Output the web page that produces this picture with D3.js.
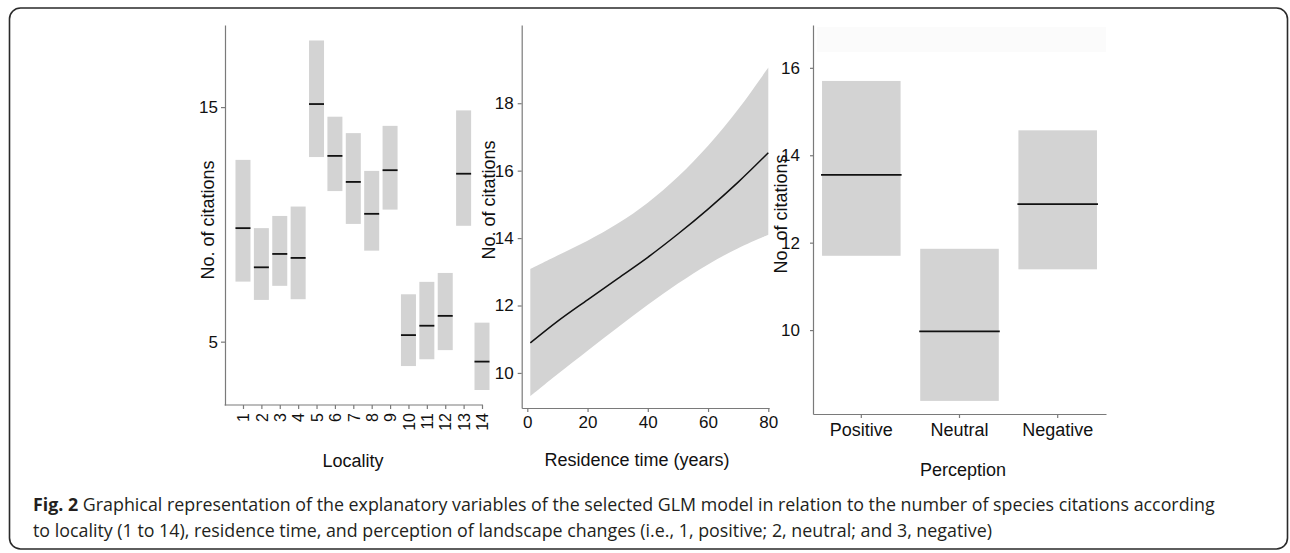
<!DOCTYPE html>
<html>
<head>
<meta charset="utf-8">
<script src="https://cdn.jsdelivr.net/npm/d3@7"></script>
<style>
  html, body { margin: 0; padding: 0; background: #fff; }
  svg { display: block; }
</style>
</head>
<body>
<svg id="chart" width="1290" height="553"></svg>
<script>
// ---------- data ----------
const localities = [1, 2, 3, 4, 5, 6, 7, 8, 9, 10, 11, 12, 13, 14];
const locMean  = [9.84, 8.17, 8.74, 8.57, 15.13, 12.92, 11.81, 10.45, 12.31, 5.28, 5.68, 6.10, 12.16, 4.15];
const locLower = [7.56, 6.78, 7.38, 6.81, 12.87, 11.42, 10.02, 8.88, 10.63, 3.96, 4.25, 4.64, 9.94, 2.94];
const locUpper = [12.75, 9.84, 10.36, 10.76, 17.84, 14.59, 13.89, 12.28, 14.20, 7.02, 7.55, 7.93, 14.86, 5.81];
const locYTicks = [5, 15];

const years     = [1, 10, 20, 30, 40, 50, 60, 70, 80];
const fitMean   = [10.89, 11.53, 12.17, 12.80, 13.43, 14.12, 14.86, 15.66, 16.53];
const fitUpper  = [13.08, 13.48, 13.92, 14.43, 15.05, 15.82, 16.74, 17.82, 19.06];
const fitLower  = [9.31, 9.96, 10.66, 11.35, 12.02, 12.65, 13.22, 13.70, 14.10];
const timeXTicks = [0, 20, 40, 60, 80];
const timeYTicks = [10, 12, 14, 16, 18];

const perceptions = ["Positive", "Neutral", "Negative"];
const percMean  = [13.55, 9.97, 12.88];
const percLower = [11.70, 8.38, 11.39];
const percUpper = [15.70, 11.86, 14.57];
const percYTicks = [10, 12, 14, 16];

const yTitle = "No. of citations";
const xTitles = ["Locality", "Residence time (years)", "Perception"];
const captionBold = "Fig. 2";
const captionLine1 = " Graphical representation of the explanatory variables of the selected GLM model in relation to the number of species citations according";
const captionLine2 = "to locality (1 to 14), residence time, and perception of landscape changes (i.e., 1, positive; 2, neutral; and 3, negative)";

// ---------- drawing ----------
const svg = d3.select("#chart");
const FONT = '"Liberation Sans", Arial, sans-serif';
const BAR = "#d3d3d3";
const AXC = "#7a7a7a";

// frame
svg.append("rect").attr("x", 9.5).attr("y", 8).attr("width", 1278).attr("height", 541)
  .attr("rx", 11).attr("fill", "#fff").attr("stroke", "#2a2a2a").attr("stroke-width", 1.6);

// very faint image background strip
svg.append("rect").attr("x", 817).attr("y", 27).attr("width", 289).attr("height", 25).attr("fill", "#fbfbfb");

function styleAxis(g) {
  g.selectAll(".domain").attr("stroke", AXC).attr("stroke-width", 1.2);
  g.selectAll(".tick line").attr("stroke", AXC).attr("stroke-width", 1.2);
  g.selectAll("text").attr("font-family", FONT).attr("fill", "#111");
}

// ===== Panel 1: Locality =====
const x1 = d3.scaleLinear().domain([0, 14]).range([224.6, 482]);
const y1 = d3.scaleLinear().domain([2.3, 18.5]).range([405, 25]);
const bw1 = 15;
const p1 = svg.append("g");
p1.selectAll("rect.bar").data(localities).join("rect")
  .attr("x", (d) => x1(d) - bw1 / 2)
  .attr("width", bw1)
  .attr("y", (d, i) => y1(locUpper[i]))
  .attr("height", (d, i) => y1(locLower[i]) - y1(locUpper[i]))
  .attr("fill", BAR);
p1.selectAll("line.mean").data(localities).join("line")
  .attr("x1", (d) => x1(d) - bw1 / 2).attr("x2", (d) => x1(d) + bw1 / 2)
  .attr("y1", (d, i) => y1(locMean[i])).attr("y2", (d, i) => y1(locMean[i]))
  .attr("stroke", "#111").attr("stroke-width", 1.8);

const gx1 = p1.append("g").attr("transform", "translate(0,405)")
  .call(d3.axisBottom(x1).tickValues(localities).tickSize(4).tickSizeOuter(0).tickFormat(d3.format("d")));
gx1.select(".domain").attr("d", `M${x1.range()[0]},0H${x1.range()[1] + 1}`);
styleAxis(gx1);
gx1.selectAll("text").attr("font-size", 16)
  .attr("transform", "rotate(-90)").attr("text-anchor", "end")
  .attr("x", -8).attr("y", 0).attr("dy", "0.36em");

const gy1 = p1.append("g").attr("transform", "translate(225,0)")
  .call(d3.axisLeft(y1).tickValues(locYTicks).tickSize(4).tickSizeOuter(0).tickPadding(3));
styleAxis(gy1);
gy1.selectAll("text").attr("font-size", 17);

p1.append("text").attr("transform", "translate(214,220) rotate(-90)")
  .attr("text-anchor", "middle").attr("font-family", FONT).attr("font-size", 18).attr("fill", "#111")
  .text(yTitle);
p1.append("text").attr("x", 353).attr("y", 467).attr("text-anchor", "middle")
  .attr("font-family", FONT).attr("font-size", 18).attr("fill", "#111").text(xTitles[0]);

// ===== Panel 2: Residence time =====
const x2 = d3.scaleLinear().domain([-1.86, 80.23]).range([521.7, 769]);
const y2 = d3.scaleLinear().domain([8.96, 20.32]).range([408, 25]);
const p2 = svg.append("g");
const band = years.map((yr, i) => ({ yr, lo: fitLower[i], hi: fitUpper[i], m: fitMean[i] }));
p2.append("path").datum(band)
  .attr("d", d3.area().x((d) => x2(d.yr)).y0((d) => y2(d.lo)).y1((d) => y2(d.hi)).curve(d3.curveCatmullRom.alpha(0.5)))
  .attr("fill", BAR);
p2.append("path").datum(band)
  .attr("d", d3.line().x((d) => x2(d.yr)).y((d) => y2(d.m)).curve(d3.curveCatmullRom.alpha(0.5)))
  .attr("fill", "none").attr("stroke", "#111").attr("stroke-width", 1.5);

const gx2 = p2.append("g").attr("transform", "translate(0,408)")
  .call(d3.axisBottom(x2).tickValues(timeXTicks).tickSize(4).tickSizeOuter(0).tickPadding(4));
styleAxis(gx2);
gx2.selectAll("text").attr("font-size", 17);

const gy2 = p2.append("g").attr("transform", "translate(521.7,0)")
  .call(d3.axisLeft(y2).tickValues(timeYTicks).tickSize(4).tickSizeOuter(0).tickPadding(4));
styleAxis(gy2);
gy2.selectAll("text").attr("font-size", 17);

p2.append("text").attr("transform", "translate(495,200) rotate(-90)")
  .attr("text-anchor", "middle").attr("font-family", FONT).attr("font-size", 18).attr("fill", "#111")
  .text(yTitle);
p2.append("text").attr("x", 637).attr("y", 466).attr("text-anchor", "middle")
  .attr("font-family", FONT).attr("font-size", 18).attr("fill", "#111").text(xTitles[1]);

// ===== Panel 3: Perception =====
const x3 = d3.scaleBand().domain(perceptions).range([813, 1106]).paddingInner(0.2).paddingOuter(0.092);
const y3 = d3.scaleLinear().domain([8.08, 16.98]).range([414, 25]);
const p3 = svg.append("g");
p3.selectAll("rect.bar").data(perceptions).join("rect")
  .attr("x", (d) => x3(d)).attr("width", x3.bandwidth())
  .attr("y", (d, i) => y3(percUpper[i]))
  .attr("height", (d, i) => y3(percLower[i]) - y3(percUpper[i]))
  .attr("fill", BAR);
p3.selectAll("line.mean").data(perceptions).join("line")
  .attr("x1", (d) => x3(d) - 1).attr("x2", (d) => x3(d) + x3.bandwidth() + 1)
  .attr("y1", (d, i) => y3(percMean[i])).attr("y2", (d, i) => y3(percMean[i]))
  .attr("stroke", "#111").attr("stroke-width", 1.8);

const gx3 = p3.append("g").attr("transform", "translate(0,414)")
  .call(d3.axisBottom(x3).tickSize(4).tickSizeOuter(0).tickPadding(5));
styleAxis(gx3);
gx3.selectAll("text").attr("font-size", 18);

const gy3 = p3.append("g").attr("transform", "translate(813,0)")
  .call(d3.axisLeft(y3).tickValues(percYTicks).tickSize(3).tickSizeOuter(0).tickPadding(10));
styleAxis(gy3);
gy3.selectAll("text").attr("font-size", 17);

p3.append("text").attr("transform", "translate(787,214) rotate(-90)")
  .attr("text-anchor", "middle").attr("font-family", FONT).attr("font-size", 18).attr("fill", "#111")
  .text(yTitle);
p3.append("text").attr("x", 963).attr("y", 476).attr("text-anchor", "middle")
  .attr("font-family", FONT).attr("font-size", 18).attr("fill", "#111").text(xTitles[2]);

// ===== Caption =====
const CAPF = '"Open Sans", "Noto Sans", sans-serif';
const cap1 = svg.append("text").attr("x", 33).attr("y", 511)
  .attr("font-family", CAPF).attr("font-size", 17).attr("fill", "#231f20");
cap1.append("tspan").attr("font-weight", "bold").text(captionBold);
cap1.append("tspan").text(captionLine1);
const cap2 = svg.append("text").attr("x", 33).attr("y", 537)
  .attr("font-family", CAPF).attr("font-size", 17).attr("fill", "#231f20").text(captionLine2);
// fit caption width to the reference line length
const w1 = cap1.node().getComputedTextLength();
const fs = 17 * (1182 / w1);
cap1.attr("font-size", fs);
cap2.attr("font-size", fs);
</script>
</body>
</html>
